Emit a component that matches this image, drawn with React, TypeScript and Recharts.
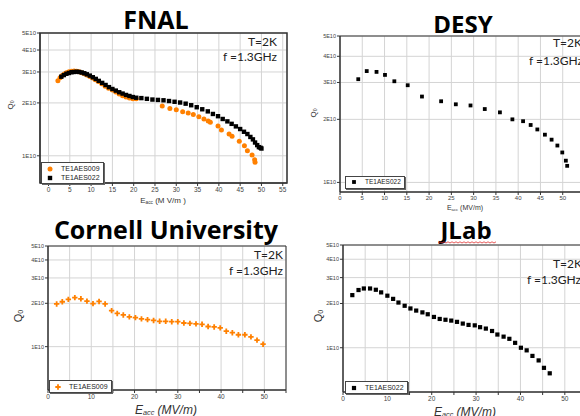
import React from "react";
import { ScatterChart, Scatter, XAxis, YAxis, CartesianGrid, ReferenceArea, Legend } from "recharts";

// FNAL, TE1AES009 (orange) and TE1AES022 (black); Q0 in units of 1E10
const fnal009E = [2.2, 2.7, 3.2, 3.7, 4.2, 4.8, 5.4, 6.0, 6.6, 7.2, 7.8, 8.4, 9.0, 9.7, 10.4, 11.0, 11.7, 12.5, 13.3, 14.1, 15.0, 15.8, 16.6, 17.4, 18.2, 19.0, 19.8, 20.6, 26.7, 28.5, 30.0, 31.5, 32.8, 34.0, 35.3, 36.5, 37.5, 38.0, 39.8, 40.6, 42.4, 43.1, 44.8, 46.0, 46.7, 47.8, 48.4, 48.5];
const fnal009Q = [2.67, 2.78, 2.86, 2.92, 2.97, 3.01, 3.03, 3.04, 3.03, 3.01, 2.97, 2.93, 2.88, 2.83, 2.77, 2.71, 2.65, 2.57, 2.49, 2.42, 2.37, 2.31, 2.25, 2.2, 2.16, 2.13, 2.11, 2.11, 1.92, 1.86, 1.83, 1.78, 1.75, 1.72, 1.67, 1.62, 1.58, 1.55, 1.48, 1.4, 1.33, 1.29, 1.21, 1.14, 1.07, 1.01, 0.95, 0.92];
const fnal022E = [3.0, 3.6, 4.2, 4.8, 5.4, 6.0, 6.6, 7.2, 7.8, 8.4, 9.0, 9.7, 10.4, 11.1, 11.8, 12.6, 13.4, 14.2, 15.0, 15.8, 16.6, 17.4, 18.2, 19.0, 19.8, 20.6, 21.8, 23.1, 24.4, 25.7, 27.0, 28.3, 29.6, 30.9, 32.2, 33.5, 34.8, 36.1, 37.4, 38.6, 39.8, 40.9, 42.0, 43.0, 44.0, 45.0, 45.9, 46.7, 47.4, 48.0, 48.5, 49.0, 49.4, 49.8, 50.0];
const fnal022Q = [2.82, 2.88, 2.93, 2.96, 2.99, 3.0, 3.01, 3.0, 2.98, 2.95, 2.91, 2.86, 2.8, 2.74, 2.67, 2.6, 2.53, 2.46, 2.4, 2.35, 2.3, 2.26, 2.22, 2.19, 2.16, 2.14, 2.13, 2.11, 2.09, 2.08, 2.07, 2.05, 2.03, 2.01, 1.98, 1.94, 1.89, 1.84, 1.79, 1.73, 1.68, 1.62, 1.57, 1.52, 1.47, 1.42, 1.37, 1.33, 1.28, 1.24, 1.19, 1.15, 1.12, 1.11, 1.1];

// DESY, TE1AES022
const desyE = [4.1, 6.0, 8.2, 10.1, 12.2, 15.2, 18.4, 22.7, 26.0, 29.3, 32.5, 35.9, 38.7, 41.1, 42.8, 44.3, 46.0, 47.5, 48.8, 49.9, 50.7, 51.0];
const desyQ = [3.11, 3.4, 3.37, 3.26, 3.04, 2.91, 2.57, 2.44, 2.36, 2.33, 2.24, 2.16, 2.0, 1.96, 1.88, 1.79, 1.69, 1.6, 1.5, 1.39, 1.27, 1.2];

// Cornell, TE1AES009
const cornellE = [2.0, 3.3, 4.7, 6.2, 7.6, 9.0, 10.4, 11.8, 13.2, 14.7, 16.0, 17.4, 18.8, 20.2, 21.6, 23.0, 24.4, 25.8, 27.2, 28.6, 30.0, 31.4, 32.8, 34.2, 35.6, 37.0, 38.4, 39.8, 41.2, 42.6, 44.0, 45.5, 46.9, 48.3, 49.7];
const cornellQ = [1.98, 2.05, 2.13, 2.19, 2.15, 2.07, 1.99, 2.06, 1.98, 1.78, 1.7, 1.66, 1.61, 1.59, 1.56, 1.54, 1.52, 1.5, 1.5, 1.49, 1.49, 1.46, 1.45, 1.44, 1.43, 1.38, 1.37, 1.35, 1.28, 1.25, 1.21, 1.21, 1.17, 1.11, 1.04];

// JLab, TE1AES022
const jlabE = [2.1, 3.5, 4.7, 6.1, 7.4, 8.6, 10.0, 11.3, 12.5, 13.9, 15.2, 16.5, 17.9, 19.1, 20.5, 21.8, 23.1, 24.4, 25.7, 27.0, 28.3, 29.7, 30.9, 32.2, 33.6, 34.8, 36.2, 37.5, 38.8, 40.1, 41.4, 42.7, 44.1, 45.3, 46.6];
const jlabQ = [2.28, 2.47, 2.53, 2.53, 2.48, 2.38, 2.26, 2.15, 2.03, 1.93, 1.85, 1.79, 1.74, 1.69, 1.62, 1.57, 1.55, 1.53, 1.5, 1.46, 1.43, 1.42, 1.38, 1.35, 1.3, 1.23, 1.19, 1.15, 1.08, 1.0, 0.96, 0.88, 0.82, 0.73, 0.67];

const eTicks = [0, 5, 10, 15, 20, 25, 30, 35, 40, 45, 50, 55];
const qTicks = [1, 2, 3, 4, 5];

const ORANGE = "#ff8000";
const BLACK = "#000000";
const SANS = "'Liberation Sans', Arial, sans-serif";
const TITLE = "'Open Sans', Lato, sans-serif";
const NOTE = "Lato, 'Open Sans', sans-serif";

type Kind = "circle" | "square" | "cross";

const pts = (e: number[], q: number[]) => e.map((x, i) => ({ e: x, q: q[i] }));

function Marker({ kind, cx, cy, size, color }: { kind: Kind; cx: number; cy: number; size: number; color: string }) {
  if (cx == null || cy == null) return null;
  if (kind === "circle") return <circle cx={cx} cy={cy} r={size / 2} fill={color} />;
  if (kind === "square") return <rect x={cx - size / 2} y={cy - size / 2} width={size} height={size} fill={color} />;
  const t = size / 3;
  return (
    <path
      d={`M${cx - t / 2},${cy - size / 2}h${t}v${t}h${t}v${t}h${-t}v${t}h${-t}v${-t}h${-t}v${-t}h${t}z`}
      fill={color}
    />
  );
}

type Series = { name: string; data: { e: number; q: number }[]; color: string; kind: Kind; size: number };

function LegendBox(props: any) {
  const { payload = [], fontSize = 7, series = [] } = props;
  return (
    <div
      style={{
        border: "1px solid #444",
        boxShadow: "1px 1px 0 #666",
        background: "#fff",
        padding: "1px 3px 1px 5px",
        fontFamily: SANS,
        fontSize,
        lineHeight: `${fontSize + 2}px`,
        color: "#222",
        whiteSpace: "nowrap",
      }}
    >
      {payload.map((p: any, i: number) => {
        const s: Series = series[i];
        return (
          <div key={p.value} style={{ display: "flex", alignItems: "center" }}>
            <svg width={6} height={6} style={{ marginRight: 8 }}>
              <Marker kind={s.kind} cx={3} cy={3} size={s.size} color={s.color} />
            </svg>
            <span>{p.value}</span>
          </div>
        );
      })}
    </div>
  );
}

function Panel(props: {
  x: number; y: number; w: number; h: number;
  margin: { top: number; right: number; bottom: number; left: number };
  xDomain: [number, number]; yDomain: [number, number];
  labelEvery: number; xFont: number; yFont: number; frame: number;
  series: Series[]; legend: { left: number; top: number; fontSize: number };
}) {
  const { x, y, w, h, margin, xDomain, yDomain, labelEvery, xFont, yFont, frame, series, legend } = props;
  return (
    <div style={{ position: "absolute", left: x, top: y }}>
      <ScatterChart width={w} height={h} margin={margin}>
        <CartesianGrid stroke="#d4d4d4" />
        <XAxis
          type="number" dataKey="e" domain={xDomain} allowDataOverflow ticks={eTicks} interval={0}
          tickFormatter={(v: number) => (v % labelEvery === 0 ? String(v) : "")}
          height={14} tickSize={3} tickMargin={1} stroke="#333"
          tick={{ fontSize: xFont, fill: "#444", fontFamily: SANS }}
        />
        <YAxis
          type="number" dataKey="q" scale="log" domain={yDomain} allowDataOverflow ticks={qTicks} interval={0}
          tickFormatter={(v: number) => `${v}E10`}
          width={30} tickSize={3} tickMargin={1} stroke="#333"
          tick={{ fontSize: yFont, fill: "#444", fontFamily: SANS }}
        />
        {series.map((s) => (
          <Scatter
            key={s.name} name={s.name} data={s.data} fill={s.color} isAnimationActive={false}
            shape={(p: any) => <Marker kind={s.kind} cx={p.cx} cy={p.cy} size={s.size} color={s.color} />}
          />
        ))}
        <ReferenceArea x1={xDomain[0]} x2={xDomain[1]} y1={yDomain[0]} y2={yDomain[1]} fill="none" stroke="#333" strokeWidth={frame} />
        <Legend
          layout="vertical" align="center" verticalAlign="middle"
          wrapperStyle={{ left: legend.left, top: legend.top, width: "auto" }}
          content={<LegendBox fontSize={legend.fontSize} series={series} />}
        />
      </ScatterChart>
    </div>
  );
}

function Title({ cx, base, text, fs = 24 }: { cx: number; base: number; text: string; fs?: number }) {
  return (
    <div
      style={{
        position: "absolute", left: cx - 140, width: 280, top: base - 0.888 * fs, textAlign: "center",
        fontFamily: TITLE, fontWeight: 700, fontSize: fs, lineHeight: 1, color: "#000",
      }}
    >
      {text}
    </div>
  );
}

function Note({ x, base, text, right }: { x: number; base: number; text: string; right?: boolean }) {
  const fs = 12;
  return (
    <div
      style={{
        position: "absolute", top: base - 0.887 * fs, whiteSpace: "nowrap",
        ...(right ? { right: 580 - x } : { left: x }),
        fontFamily: NOTE, fontSize: fs, lineHeight: 1, color: "#222",
      }}
    >
      {text}
    </div>
  );
}

function XLabel({ cx, cy, fs, italic, unit }: { cx: number; cy: number; fs: number; italic?: boolean; unit: string }) {
  return (
    <div
      style={{
        position: "absolute", left: cx, top: cy, transform: "translate(-50%, -50%)", whiteSpace: "nowrap",
        fontFamily: SANS, fontSize: fs, fontStyle: italic ? "italic" : "normal", color: "#333", lineHeight: 1,
      }}
    >
      E<sub style={{ fontSize: "0.6em", verticalAlign: "-0.25em" }}>acc</sub> {unit}
    </div>
  );
}

function YLabel({ cx, cy, fs }: { cx: number; cy: number; fs: number }) {
  return (
    <div
      style={{
        position: "absolute", left: cx, top: cy, transform: "translate(-50%, -50%) rotate(-90deg)", whiteSpace: "nowrap",
        fontFamily: SANS, fontSize: fs, color: "#333", lineHeight: 1,
      }}
    >
      Q<sub style={{ fontSize: "0.65em", verticalAlign: "-0.25em" }}>0</sub>
    </div>
  );
}

// red spell-check squiggle under "JLab"
function Squiggle({ x0, x1, y }: { x0: number; x1: number; y: number }) {
  let d = `M${x0},${y}`;
  for (let x = x0, up = true; x < x1; x += 2, up = !up) d += ` L${x + 2},${up ? y - 1.2 : y}`;
  return (
    <svg style={{ position: "absolute", left: 0, top: 0 }} width={580} height={416}>
      <path d={d} fill="none" stroke="#e03030" strokeWidth={0.8} />
    </svg>
  );
}

export default function App() {
  return (
    <div style={{ position: "fixed", left: 0, top: 0, width: 580, height: 416, overflow: "hidden", background: "#fff" }}>
      <Panel
        x={0} y={0} w={290} h={208}
        margin={{ top: 33, right: 3, bottom: 11, left: 10 }}
        xDomain={[-2, 56]} yDomain={[0.7, 5]} labelEvery={5} xFont={6.5} yFont={6} frame={1.5}
        series={[
          { name: "TE1AES009", data: pts(fnal009E, fnal009Q), color: ORANGE, kind: "circle", size: 5 },
          { name: "TE1AES022", data: pts(fnal022E, fnal022Q), color: BLACK, kind: "square", size: 4.4 },
        ]}
        legend={{ left: 41, top: 162, fontSize: 7 }}
      />
      <Panel
        x={290} y={0} w={300} h={208}
        margin={{ top: 36, right: 5, bottom: 2, left: 20 }}
        xDomain={[0, 55]} yDomain={[0.9, 5]} labelEvery={5} xFont={6} yFont={5.5} frame={1}
        series={[{ name: "TE1AES022", data: pts(desyE, desyQ), color: BLACK, kind: "square", size: 3.8 }]}
        legend={{ left: 55, top: 176, fontSize: 6.5 }}
      />
      <Panel
        x={0} y={208} w={290} h={208}
        margin={{ top: 38, right: 4, bottom: 12, left: 18 }}
        xDomain={[0, 55]} yDomain={[0.5, 5]} labelEvery={10} xFont={6.5} yFont={5.5} frame={1}
        series={[{ name: "TE1AES009", data: pts(cornellE, cornellQ), color: ORANGE, kind: "cross", size: 5.4 }]}
        legend={{ left: 49, top: 172, fontSize: 7 }}
      />
      <Panel
        x={290} y={208} w={300} h={208}
        margin={{ top: 37, right: 3, bottom: 10, left: 23 }}
        xDomain={[0, 55]} yDomain={[0.5, 5]} labelEvery={10} xFont={6.5} yFont={5.5} frame={1}
        series={[{ name: "TE1AES022", data: pts(jlabE, jlabQ), color: BLACK, kind: "square", size: 4.2 }]}
        legend={{ left: 55, top: 173, fontSize: 7 }}
      />

      <Title cx={156} base={29} text="FNAL" fs={25} />
      <Title cx={463} base={33} text="DESY" />
      <Title cx={166} base={239} text="Cornell University" fs={25} />
      <Title cx={466} base={239} text="JLab" />
      <Squiggle x0={438} x1={496} y={243} />

      <Note x={277} base={47} text="T=2K" right />
      <Note x={277} base={62} text="f =1.3GHz" right />
      <Note x={553} base={48} text="T=2K" />
      <Note x={529} base={66} text="f =1.3GHz" />
      <Note x={283} base={260} text="T=2K" right />
      <Note x={283} base={276} text="f =1.3GHz" right />
      <Note x={553} base={269} text="T=2K" />
      <Note x={527} base={285} text="f =1.3GHz" />

      <XLabel cx={163} cy={201} fs={8} unit="(M V/m )" />
      <XLabel cx={465} cy={208} fs={7} unit="(MV/m)" />
      <XLabel cx={166} cy={410} fs={12} italic unit="(MV/m)" />
      <XLabel cx={465} cy={412} fs={12} italic unit="(MV/m)" />

      <YLabel cx={10.5} cy={105} fs={8} />
      <YLabel cx={313.5} cy={113} fs={8} />
      <YLabel cx={19} cy={316} fs={11} />
      <YLabel cx={319} cy={316} fs={11} />
    </div>
  );
}
